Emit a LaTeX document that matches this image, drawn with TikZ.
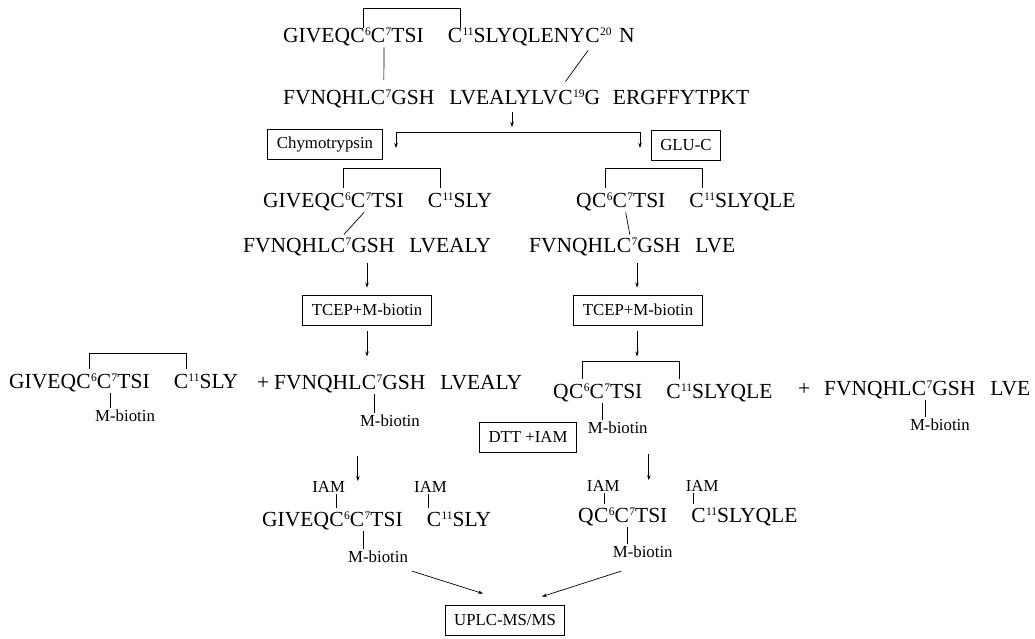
\documentclass[tikz,border=0pt]{standalone}
\usepackage{fontspec}
\setmainfont{Liberation Serif}
\usetikzlibrary{arrows.meta,positioning}
\newcommand{\seqsize}{\fontsize{21.5}{26}\selectfont}
\newcommand{\labsize}{\fontsize{16.8}{20}\selectfont}
\newcommand{\resnum}[1]{\raisebox{6.4pt}{\fontsize{11.5}{12}\selectfont #1}}
\newcommand{\tsigap}{\hspace{1.1em}\null}
\newcommand{\gshgap}{\hspace{0.7em}}
\begin{document}
\begin{tikzpicture}[x=1pt, y=-1pt,
    seq/.style={inner sep=0pt, anchor=base west, font=\seqsize},
    lab/.style={inner sep=1pt, font=\labsize},
    box/.style={draw, line width=0.9pt, inner xsep=9pt, minimum height=30pt, font=\labsize},
    bond/.style={line width=0.7pt},
    flow/.style={line width=0.7pt, -{Stealth[length=5pt, width=3.5pt]}}]
    \useasboundingbox (0,0) rectangle (1035,638);

    % Native peptide (A chain)
    \node[seq] (t1a) at (283,42) {GIVEQ};
    \node[seq] (t1c6) at (t1a.base east) {C};
    \node[seq] (t1c7) at (t1c6.base east) {\resnum{6}C};
    \node[seq] (t1b) at (t1c7.base east) {\resnum{7}TSI\tsigap};
    \node[seq] (t1c11) at (t1b.base east) {C};
    \node[seq] (t1d) at (t1c11.base east) {\resnum{11}SLYQLENY};
    \node[seq] (t1c20) at (t1d.base east) {C};
    \node[seq] (t1e) at (t1c20.base east) {\resnum{20}\hspace{0.35em}N};

    % Native peptide (B chain)
    \node[seq] (t2a) at (283,104) {FVNQHL};
    \node[seq] (t2c7) at (t2a.base east) {C};
    \node[seq] (t2b) at (t2c7.base east) {\resnum{7}GSH\gshgap LVEALYLV};
    \node[seq] (t2c19) at (t2b.base east) {C};
    \node[seq] (t2e) at (t2c19.base east) {\resnum{19}G\hspace{0.6em}ERGFFYTPKT};

    \draw[bond] ([xshift=-1.5pt]t1c6.north east) -- ++(0,-18.8) -| ([xshift=-1.5pt]t1c11.north east);
    \draw[bond] ([xshift=-1.5pt,yshift=-5pt]t1c7.south east) -- ([xshift=-1.5pt,yshift=10pt]t2c7.north east);
    \draw[bond] ([xshift=3pt,yshift=-8pt]t1c20.south west) -- ([yshift=8pt]t2c19.north);

    % Digestion
    \coordinate (src) at (512,112);
    \coordinate (fork) at (512,132);
    \coordinate (lsplit) at (396,132);
    \coordinate (rsplit) at (640,132);
    \draw[flow] (src) -- ([yshift=5pt]fork);
    \draw[bond] (lsplit) -- (rsplit);
    \draw[flow] (lsplit) -- ++(0,16);
    \draw[flow] (rsplit) -- ++(0,16);
    \node[box] (chymo) at (325,144) {Chymotrypsin};
    \node[box] (gluc) at (686,145) {GLU-C};

    % Chymotrypsin fragment
    \node[seq] (ml1a) at (263,207) {GIVEQ};
    \node[seq] (ml1c6) at (ml1a.base east) {C};
    \node[seq] (ml1c7) at (ml1c6.base east) {\resnum{6}C};
    \node[seq] (ml1b) at (ml1c7.base east) {\resnum{7}TSI\tsigap};
    \node[seq] (ml1c11) at (ml1b.base east) {C};
    \node[seq] (ml1d) at (ml1c11.base east) {\resnum{11}SLY};
    \node[seq] (ml2a) at (243,252) {FVNQHL};
    \node[seq] (ml2c7) at (ml2a.base east) {C};
    \node[seq] (ml2b) at (ml2c7.base east) {\resnum{7}GSH\gshgap LVEALY};
    \draw[bond] ([xshift=-1.5pt,yshift=5pt]ml1c6.north east) -- ++(0,-18.8) -| ([xshift=-1.5pt,yshift=5pt]ml1c11.north east);
    \draw[bond] ([xshift=-1.5pt,yshift=-5pt]ml1c7.south east) -- ([xshift=-1.5pt,yshift=3pt]ml2c7.north east);

    % GLU-C fragment
    \node[seq] (mr1a) at (576,207) {Q};
    \node[seq] (mr1c6) at (mr1a.base east) {C};
    \node[seq] (mr1c7) at (mr1c6.base east) {\resnum{6}C};
    \node[seq] (mr1b) at (mr1c7.base east) {\resnum{7}TSI\tsigap};
    \node[seq] (mr1c11) at (mr1b.base east) {C};
    \node[seq] (mr1d) at (mr1c11.base east) {\resnum{11}SLYQLE};
    \node[seq] (mr2a) at (529,252) {FVNQHL};
    \node[seq] (mr2c7) at (mr2a.base east) {C};
    \node[seq] (mr2b) at (mr2c7.base east) {\resnum{7}GSH\gshgap LVE};
    \draw[bond] ([xshift=-1.5pt,yshift=5pt]mr1c6.north east) -- ++(0,-18.8) -| ([xshift=-1.5pt,yshift=5pt]mr1c11.north east);
    \draw[bond] ([xshift=-1.5pt,yshift=-5pt]mr1c7.south east) -- ([xshift=-1.5pt,yshift=3pt]mr2c7.north east);

    % Reduction and labelling
    \node[box] (tcepl) at (367,310) {TCEP+M-biotin};
    \node[box] (tcepr) at (638,310) {TCEP+M-biotin};
    \draw[flow] ([yshift=32pt]tcepl.north) -- ([yshift=7pt]tcepl.north);
    \draw[flow] ([yshift=-6pt]tcepl.south) -- ++(0,25);
    \draw[flow] ([xshift=-1pt,yshift=32pt]tcepr.north) -- ([xshift=-1pt,yshift=7pt]tcepr.north);
    \draw[flow] ([xshift=-1pt,yshift=-6pt]tcepr.south) -- ++(0,25);

    % Products, left
    \node[seq] (lb1a) at (9,388) {GIVEQ};
    \node[seq] (lb1c6) at (lb1a.base east) {C};
    \node[seq] (lb1c7) at (lb1c6.base east) {\resnum{6}C};
    \node[seq] (lb1b) at (lb1c7.base east) {\resnum{7}TSI\tsigap};
    \node[seq] (lb1c11) at (lb1b.base east) {C};
    \node[seq] (lb1d) at (lb1c11.base east) {\resnum{11}SLY};
    \draw[bond] ([xshift=-1.5pt,yshift=5pt]lb1c6.north east) -- ++(0,-14.8) -| ([xshift=-1.5pt,yshift=5pt]lb1c11.north east);
    \node[lab, anchor=north west] (lb1m) at ([xshift=-17.5pt,yshift=-20pt]lb1c7.south east) {M-biotin};
    \draw[bond] ([xshift=-1.5pt,yshift=-5pt]lb1c7.south east) -- ([xshift=16pt]lb1m.north west);

    \node[seq] (lb2p) at (257,389) {+};
    \node[seq] (lb2a) at (274,389) {FVNQHL};
    \node[seq] (lb2c7) at (lb2a.base east) {C};
    \node[seq] (lb2b) at (lb2c7.base east) {\resnum{7}GSH\gshgap LVEALY};
    \node[lab, anchor=north west] (lb2m) at ([xshift=-17.5pt,yshift=-24pt]lb2c7.south east) {M-biotin};
    \draw[bond] ([xshift=-1.5pt,yshift=-5pt]lb2c7.south east) -- ([xshift=16pt]lb2m.north west);

    % Products, right
    \node[seq] (mr3a) at (553,398) {Q};
    \node[seq] (mr3c6) at (mr3a.base east) {C};
    \node[seq] (mr3c7) at (mr3c6.base east) {\resnum{6}C};
    \node[seq] (mr3b) at (mr3c7.base east) {\resnum{7}TSI\tsigap};
    \node[seq] (mr3c11) at (mr3b.base east) {C};
    \node[seq] (mr3d) at (mr3c11.base east) {\resnum{11}SLYQLE};
    \draw[bond] ([xshift=-1.5pt,yshift=5pt]mr3c6.north east) -- ++(0,-16.8) -| ([xshift=-1.5pt,yshift=5pt]mr3c11.north east);
    \node[lab, anchor=north west] (mr3m) at ([xshift=-17.5pt,yshift=-22pt]mr3c7.south east) {M-biotin};
    \draw[bond] ([xshift=-1.5pt,yshift=-5pt]mr3c7.south east) -- ([xshift=16pt]mr3m.north west);

    \node[seq] (frp) at (798,395) {+};
    \node[seq] (fra) at (824,395) {FVNQHL};
    \node[seq] (frc7) at (fra.base east) {C};
    \node[seq] (frb) at (frc7.base east) {\resnum{7}GSH\gshgap LVE};
    \node[lab, anchor=north west] (frm) at ([xshift=-17.5pt,yshift=-22pt]frc7.south east) {M-biotin};
    \draw[bond] ([xshift=-1.5pt,yshift=-5pt]frc7.south east) -- ([xshift=16pt]frm.north west);

    \node[box] (dtt) at (528,437) {DTT +IAM};

    % Alkylation, left
    \draw[flow] ([xshift=-1pt,yshift=-28.5pt]lb2m.south west) -- ++(0,25);
    \node[seq] (bla) at (262,526) {GIVEQ};
    \node[seq] (blc6) at (bla.base east) {C};
    \node[seq] (blc7) at (blc6.base east) {\resnum{6}C};
    \node[seq] (blb) at (blc7.base east) {\resnum{7}TSI\tsigap};
    \node[seq] (blc11) at (blb.base east) {C};
    \node[seq] (bld) at (blc11.base east) {\resnum{11}SLY};
    \node[lab, anchor=south] (blil) at ([xshift=-8pt,yshift=17.8pt]blc6.north) {IAM};
    \node[lab, anchor=south] (blir) at ([xshift=4pt,yshift=17.8pt]blc11.north west) {IAM};
    \draw[bond] ([yshift=4pt]blc6.north) -- ([xshift=8pt]blil.south);
    \draw[bond] ([xshift=2pt,yshift=4pt]blc11.north west) -- ([xshift=-2pt]blir.south);
    \node[lab, anchor=north west] (blm) at ([xshift=-17.5pt,yshift=-23pt]blc7.south east) {M-biotin};
    \draw[bond] ([xshift=-1.5pt,yshift=-5pt]blc7.south east) -- ([xshift=16pt]blm.north west);

    % Alkylation, right
    \draw[flow] ([yshift=-19.5pt]mr3m.south east) -- ++(0,26);
    \node[seq] (bra) at (578,522) {Q};
    \node[seq] (brc6) at (bra.base east) {C};
    \node[seq] (brc7) at (brc6.base east) {\resnum{6}C};
    \node[seq] (brb) at (brc7.base east) {\resnum{7}TSI\tsigap};
    \node[seq] (brc11) at (brb.base east) {C};
    \node[seq] (brd) at (brc11.base east) {\resnum{11}SLYQLE};
    \node[lab, anchor=south] (bril) at ([xshift=2pt,yshift=14.8pt]brc6.north) {IAM};
    \node[lab, anchor=south] (brir) at ([xshift=11pt,yshift=14.8pt]brc11.north west) {IAM};
    \draw[bond] ([xshift=3pt,yshift=4pt]brc6.north) -- ([xshift=1pt]bril.south);
    \draw[bond] ([xshift=2pt,yshift=4pt]brc11.north west) -- ([xshift=-9pt]brir.south);
    \node[lab, anchor=north west] (brm) at ([xshift=-17.5pt,yshift=-22pt]brc7.south east) {M-biotin};
    \draw[bond] ([xshift=-1.5pt,yshift=-5pt]brc7.south east) -- ([xshift=16pt]brm.north west);

    % Analysis
    \node[box] (uplc) at (505,620) {UPLC-MS/MS};
    \draw[flow] ([xshift=3pt,yshift=-7.5pt]blm.south east) -- ([xshift=-22pt,yshift=11pt]uplc.north);
    \draw[flow] ([xshift=9.5pt,yshift=-12.5pt]brm.south west) -- ([xshift=37pt,yshift=8pt]uplc.north);
\end{tikzpicture}
\end{document}
